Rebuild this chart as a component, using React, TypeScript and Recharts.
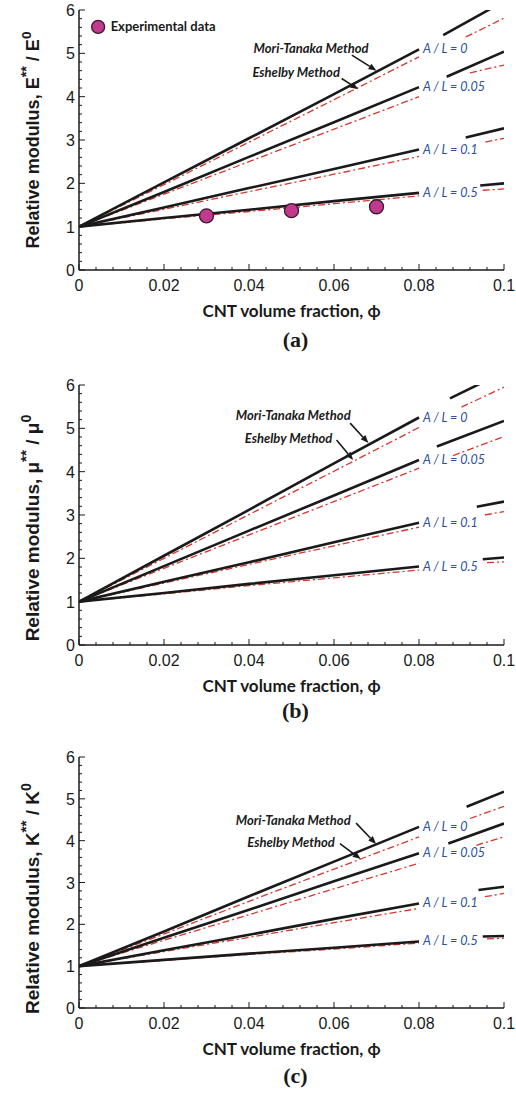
import React from "react";
import { ComposedChart, Line, Scatter, XAxis, YAxis, ReferenceDot, ReferenceLine } from "recharts";

// common x positions of the solid / dash-dot curves (before the label gap)
const PHI = [0, 0.02, 0.04, 0.06, 0.08];
const GAP_PHI = 0.082;
const AL_LABELS = ["A / L = 0", "A / L = 0.05", "A / L = 0.1", "A / L = 0.5"];
const X_MAJOR = [0, 0.02, 0.04, 0.06, 0.08, 0.1];
const X_LABELS = ["0", "0.02", "0.04", "0.06", "0.08", "0.1"];
const Y_MAJOR = [0, 1, 2, 3, 4, 5, 6];
const X_TICKS = Array.from({ length: 26 }, (_, i) => (i * 4) / 1000);
const Y_TICKS = Array.from({ length: 31 }, (_, i) => (i * 2) / 10);

// (a) Young's modulus E**/E0
const E_MT = [
  [1, 2.02, 3.04, 4.06, 5.09],
  [1, 1.8, 2.61, 3.41, 4.22],
  [1, 1.44, 1.89, 2.33, 2.78],
  [1, 1.2, 1.39, 1.59, 1.78],
];
// [phi where the curve resumes after its label, value there, value at 0.1]
const E_MT_TAIL = [
  [0.0857, 5.42, 6.2],
  [0.0865, 4.46, 5.04],
  [0.091, 3.06, 3.27],
  [0.0944, 1.95, 2.0],
];
const E_ESH = [
  [1, 1.97, 2.95, 3.93, 4.92],
  [1, 1.75, 2.5, 3.25, 4.0],
  [1, 1.4, 1.81, 2.21, 2.62],
  [1, 1.18, 1.35, 1.53, 1.71],
];
const E_ESH_TAIL = [
  [0.091, 5.38, 5.81],
  [0.092, 4.55, 4.73],
  [0.0956, 2.95, 3.04],
  [0.095, 1.84, 1.87],
];
const EXP_PHI = [0.03, 0.05, 0.07];
const EXP_E = [1.25, 1.37, 1.46];

// (b) shear modulus mu**/mu0
const MU_MT = [
  [1, 2.06, 3.12, 4.19, 5.25],
  [1, 1.82, 2.64, 3.45, 4.27],
  [1, 1.46, 1.91, 2.37, 2.82],
  [1, 1.2, 1.41, 1.61, 1.81],
];
const MU_MT_TAIL = [
  [0.0873, 5.69, 6.3],
  [0.0842, 4.58, 5.17],
  [0.0936, 3.19, 3.31],
  [0.095, 1.98, 2.02],
];
const MU_ESH = [
  [1, 2.0, 3.01, 4.01, 5.02],
  [1, 1.77, 2.54, 3.31, 4.08],
  [1, 1.43, 1.86, 2.29, 2.72],
  [1, 1.18, 1.37, 1.55, 1.73],
];
const MU_ESH_TAIL = [
  [0.09, 5.49, 5.95],
  [0.088, 4.37, 4.81],
  [0.0955, 3.0, 3.08],
  [0.096, 1.9, 1.92],
];

// (c) bulk modulus K**/K0
const K_MT = [
  [1, 1.83, 2.67, 3.5, 4.33],
  [1, 1.68, 2.35, 3.03, 3.7],
  [1, 1.38, 1.75, 2.13, 2.5],
  [1, 1.15, 1.3, 1.44, 1.59],
];
const K_MT_TAIL = [
  [0.0912, 4.81, 5.17],
  [0.0869, 3.93, 4.41],
  [0.094, 2.82, 2.9],
  [0.095, 1.71, 1.72],
];
const K_ESH = [
  [1, 1.77, 2.55, 3.32, 4.09],
  [1, 1.62, 2.23, 2.85, 3.46],
  [1, 1.35, 1.69, 2.04, 2.38],
  [1, 1.14, 1.28, 1.41, 1.55],
];
const K_ESH_TAIL = [
  [0.092, 4.53, 4.82],
  [0.0935, 3.89, 4.09],
  [0.0955, 2.66, 2.74],
  [0.096, 1.65, 1.67],
];

// annotation anchors in data units: text centre, arrow start, arrow tip
const NOTE_TEXT = ["Mori-Tanaka Method", "Eshelby Method"];
const NOTE_POS_A = [
  [0.0546, 5.13, 0.0642, 4.96, 0.07, 4.6],
  [0.0511, 4.56, 0.0618, 4.42, 0.0657, 4.17],
];
const NOTE_POS_B = [
  [0.0504, 5.31, 0.0638, 5.12, 0.0681, 4.66],
  [0.0493, 4.77, 0.0606, 4.73, 0.0645, 4.27],
];
const NOTE_POS_C = [
  [0.0504, 4.49, 0.0652, 4.42, 0.0699, 3.92],
  [0.0499, 3.98, 0.0614, 3.93, 0.0663, 3.56],
];

const INK = "#1a1a1a";
const RED = "#d8362c";
const BLUE = "#2c4f9e";
const NUM_FONT = "'Liberation Sans', Arial, sans-serif";
const CAL_FONT = "Lato, 'Open Sans', sans-serif";
const AXIS_LINE = { stroke: INK, strokeWidth: 1.5 };

const series = (main: number[], tail: number[]) => [
  ...PHI.map((p, i) => ({ phi: p, v: main[i] })),
  { phi: GAP_PHI, v: null },
  { phi: tail[0], v: tail[1] },
  { phi: 0.1, v: tail[2] },
];

const majorIdx = (list: number[], v: number) => list.findIndex((m) => Math.abs(m - v) < 1e-6);

function BottomTick(p: any) {
  const i = majorIdx(X_MAJOR, p.payload.value);
  return (
    <g>
      <line x1={p.x} x2={p.x} y1={p.y} y2={p.y - (i >= 0 ? 6 : 3)} stroke={INK} strokeWidth={1} />
      {i >= 0 && (
        <text x={p.x} y={p.y + 21} textAnchor="middle" fontSize={16} fontFamily={NUM_FONT} fill={INK}>
          {X_LABELS[i]}
        </text>
      )}
    </g>
  );
}

function TopTick(p: any) {
  const i = majorIdx(X_MAJOR, p.payload.value);
  return <line x1={p.x} x2={p.x} y1={p.y} y2={p.y + (i >= 0 ? 6 : 3)} stroke={INK} strokeWidth={1} />;
}

function LeftTick(p: any) {
  const i = majorIdx(Y_MAJOR, p.payload.value);
  return (
    <g>
      <line x1={p.x} x2={p.x + (i >= 0 ? 6 : 3)} y1={p.y} y2={p.y} stroke={INK} strokeWidth={1} />
      {i >= 0 && (
        <text x={p.x - 4} y={p.y + 6} textAnchor="end" fontSize={16} fontFamily={NUM_FONT} fill={INK}>
          {Y_MAJOR[i]}
        </text>
      )}
    </g>
  );
}

function RightTick(p: any) {
  const i = majorIdx(Y_MAJOR, p.payload.value);
  return <line x1={p.x} x2={p.x - (i >= 0 ? 6 : 3)} y1={p.y} y2={p.y} stroke={INK} strokeWidth={1} />;
}

function arrowShape(p: any) {
  const { x1, y1, x2, y2 } = p;
  const a = Math.atan2(y2 - y1, x2 - x1);
  const L = 8;
  const w = 3.2;
  const bx = x2 - L * Math.cos(a);
  const by = y2 - L * Math.sin(a);
  const pts = `${x2},${y2} ${bx - w * Math.sin(a)},${by + w * Math.cos(a)} ${bx + w * Math.sin(a)},${by - w * Math.cos(a)}`;
  return (
    <g>
      <line x1={x1} y1={y1} x2={bx} y2={by} stroke={INK} strokeWidth={1.6} />
      <polygon points={pts} fill={INK} />
    </g>
  );
}

interface PanelProps {
  top: number;
  plotH: number;
  bottom: number;
  sym: string;
  letter: string;
  mt: number[][];
  mtTail: number[][];
  esh: number[][];
  eshTail: number[][];
  notes: number[][];
  titleShift: number;
  titleSize: number;
  letterDy: number;
  withExp?: boolean;
}

function Panel(props: PanelProps) {
  const { top, plotH, bottom, sym, letter, mt, mtTail, esh, eshTail, notes, titleShift, titleSize, letterDy, withExp } = props;
  const height = 10 + plotH + 30 + bottom;
  const expData = EXP_PHI.map((p, i) => ({ phi: p, v: EXP_E[i] }));

  const yTitle = (lp: any) => {
    const vb = lp.viewBox;
    const cx = vb.x + 39;
    const cy = vb.y + vb.height / 2 + titleShift;
    return (
      <text
        transform={`translate(${cx},${cy}) rotate(-90)`}
        textAnchor="middle"
        fontSize={titleSize}
        fontWeight="bold"
        fontFamily={NUM_FONT}
        fill={INK}
      >
        Relative modulus, {sym}
        <tspan dy={-8} fontSize={titleSize * 0.8}>**</tspan>
        <tspan dy={8}> / {sym}</tspan>
        <tspan dy={-8} fontSize={titleSize * 0.75}>0</tspan>
      </text>
    );
  };

  const xTitle = (lp: any) => {
    const vb = lp.viewBox;
    const cx = vb.x + vb.width / 2;
    return (
      <g>
        <text x={cx} y={vb.y + 47} textAnchor="middle" fontSize={17} fontWeight="bold" fontFamily={CAL_FONT} fill={INK}>
          CNT volume fraction, ϕ
        </text>
        <text x={cx + 4} y={vb.y + letterDy} textAnchor="middle" fontSize={22} fontWeight="bold" fontFamily="'Liberation Serif', 'Times New Roman', serif" fill={INK}>
          {letter}
        </text>
      </g>
    );
  };

  return (
    <div style={{ position: "absolute", left: 0, top }}>
      <ComposedChart width={516} height={height} margin={{ top: 10, right: 12, bottom, left: 0 }}>
        <XAxis
          dataKey="phi"
          type="number"
          domain={[0, 0.1]}
          allowDataOverflow
          ticks={X_TICKS}
          interval={0}
          tickSize={0}
          tickMargin={0}
          tickLine={false}
          tick={BottomTick}
          axisLine={AXIS_LINE}
          height={30}
          label={xTitle}
        />
        <XAxis
          xAxisId="top"
          orientation="top"
          dataKey="phi"
          type="number"
          domain={[0, 0.1]}
          allowDataOverflow
          ticks={X_TICKS}
          interval={0}
          tickSize={0}
          tickMargin={0}
          tickLine={false}
          tick={TopTick}
          axisLine={AXIS_LINE}
          height={0}
        />
        <YAxis
          type="number"
          domain={[0, 6]}
          allowDataOverflow
          ticks={Y_TICKS}
          interval={0}
          tickSize={0}
          tickMargin={0}
          tickLine={false}
          tick={LeftTick}
          axisLine={AXIS_LINE}
          width={79}
          label={yTitle}
        />
        <YAxis
          yAxisId="right"
          orientation="right"
          type="number"
          domain={[0, 6]}
          allowDataOverflow
          ticks={Y_TICKS}
          interval={0}
          tickSize={0}
          tickMargin={0}
          tickLine={false}
          tick={RightTick}
          axisLine={AXIS_LINE}
          width={0}
        />

        {esh.map((row, i) => (
          <Line
            key={`esh-${i}`}
            data={series(row, eshTail[i])}
            dataKey="v"
            type="linear"
            stroke={RED}
            strokeWidth={1.3}
            strokeDasharray="7 3 2 3"
            dot={false}
            activeDot={false}
            connectNulls={false}
            isAnimationActive={false}
          />
        ))}
        {mt.map((row, i) => (
          <Line
            key={`mt-${i}`}
            data={series(row, mtTail[i])}
            dataKey="v"
            type="linear"
            stroke={INK}
            strokeWidth={2.6}
            dot={false}
            activeDot={false}
            connectNulls={false}
            isAnimationActive={false}
          />
        ))}

        {mt.map((row, i) => (
          <ReferenceDot
            key={`al-${i}`}
            x={PHI[4]}
            y={row[4]}
            r={0}
            fill="none"
            stroke="none"
            label={(lp: any) => (
              <text
                x={lp.viewBox.x + 4}
                y={lp.viewBox.y + 4}
                fontSize={12.5}
                fontStyle="italic"
                fontFamily={CAL_FONT}
                fill={BLUE}
              >
                {AL_LABELS[i]}
              </text>
            )}
          />
        ))}

        {notes.map((n, i) => (
          <ReferenceLine key={`arrow-${i}`} segment={[{ x: n[2], y: n[3] }, { x: n[4], y: n[5] }]} shape={arrowShape} />
        ))}
        {notes.map((n, i) => (
          <ReferenceDot
            key={`note-${i}`}
            x={n[0]}
            y={n[1]}
            r={0}
            fill="none"
            stroke="none"
            label={(lp: any) => (
              <text
                x={lp.viewBox.x}
                y={lp.viewBox.y + 5}
                textAnchor="middle"
                fontSize={13}
                fontWeight="bold"
                fontStyle="italic"
                fontFamily={CAL_FONT}
                fill={INK}
              >
                {NOTE_TEXT[i]}
              </text>
            )}
          />
        ))}

        {withExp && (
          <Scatter
            data={expData}
            dataKey="v"
            isAnimationActive={false}
            shape={(sp: any) => <circle cx={sp.cx} cy={sp.cy} r={7} fill="#c23a8e" stroke="#3a1a2c" strokeWidth={1.3} />}
          />
        )}
        {withExp && (
          <ReferenceDot
            x={0.0045}
            y={5.61}
            r={6.5}
            fill="#c23a8e"
            stroke="#3a1a2c"
            strokeWidth={1.3}
            label={(lp: any) => (
              <text
                x={lp.viewBox.x + lp.viewBox.width + 6}
                y={lp.viewBox.y + lp.viewBox.height / 2 + 4.5}
                fontSize={13}
                fontWeight="bold"
                fontFamily={CAL_FONT}
                fill={INK}
              >
                Experimental data
              </text>
            )}
          />
        )}
      </ComposedChart>
    </div>
  );
}

export default function App() {
  return (
    <div style={{ position: "absolute", left: 0, top: 0, width: 516, height: 1094, overflow: "hidden", background: "#fff" }}>
      <Panel
        top={0}
        plotH={260}
        bottom={60}
        sym="E"
        letter="(a)"
        mt={E_MT}
        mtTail={E_MT_TAIL}
        esh={E_ESH}
        eshTail={E_ESH_TAIL}
        notes={NOTE_POS_A}
        titleShift={0}
        titleSize={18}
        letterDy={77}
        withExp
      />
      <Panel
        top={375}
        plotH={260}
        bottom={60}
        sym="μ"
        letter="(b)"
        mt={MU_MT}
        mtTail={MU_MT_TAIL}
        esh={MU_ESH}
        eshTail={MU_ESH_TAIL}
        notes={NOTE_POS_B}
        titleShift={13}
        titleSize={19}
        letterDy={73}
      />
      <Panel
        top={747}
        plotH={251}
        bottom={56}
        sym="K"
        letter="(c)"
        mt={K_MT}
        mtTail={K_MT_TAIL}
        esh={K_ESH}
        eshTail={K_ESH_TAIL}
        notes={NOTE_POS_C}
        titleShift={16}
        titleSize={19}
        letterDy={75}
      />
    </div>
  );
}
